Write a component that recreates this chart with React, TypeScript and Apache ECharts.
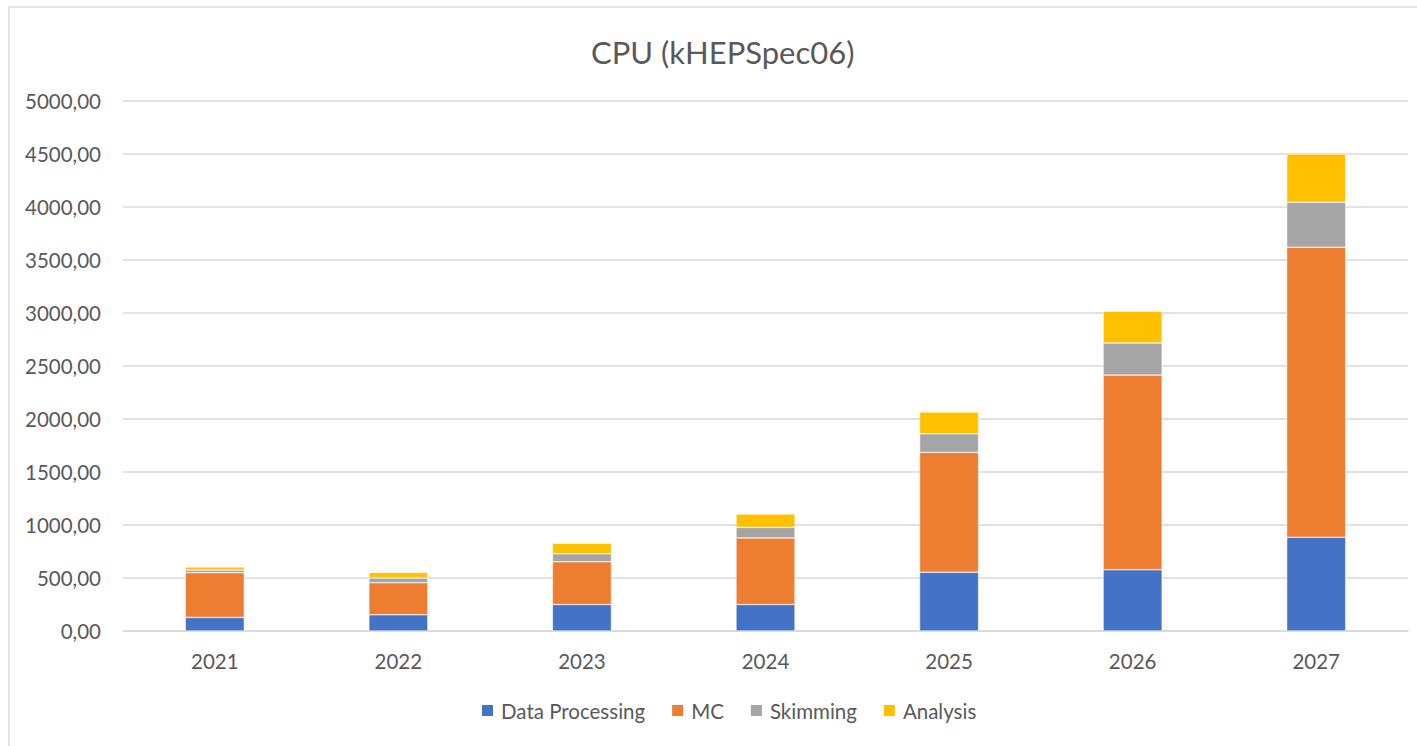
import React, { useEffect, useRef } from "react";
import * as echarts from "echarts";

const categories = ["2021", "2022", "2023", "2024", "2025", "2026", "2027"];
const dataProcessing = [128, 153, 250, 250, 555, 578, 884];
const mc = [422, 303, 403, 628, 1130, 1836, 2737];
const skimming = [25, 44, 75, 100, 175, 303, 424];
const analysis = [28, 53, 100, 125, 205, 299, 454];
const seriesNames = ["Data Processing", "MC", "Skimming", "Analysis"];
const colors = ["#4472C4", "#ED7D31", "#A5A5A5", "#FFC000"];

const FONT = "Lato";
const TEXT = "#595959";

export default function App() {
  const ref = useRef<HTMLDivElement>(null);
  useEffect(() => {
    if (!ref.current) return;
    const chart = echarts.init(ref.current, undefined, { renderer: "svg" });
    const values = [dataProcessing, mc, skimming, analysis];
    chart.setOption({
      animation: false,
      backgroundColor: "#ffffff",
      color: colors,
      title: {
        text: "CPU (kHEPSpec06)",
        left: 586,
        top: 31,
        textStyle: { fontFamily: FONT, fontSize: 31, fontWeight: "normal", color: TEXT },
      },
      legend: {
        bottom: 20,
        left: 475,
        itemWidth: 13,
        itemHeight: 13,
        itemGap: 25,
        icon: "rect",
        textStyle: { fontFamily: FONT, fontSize: 20.5, color: TEXT, padding: [0, 0, 0, 2] },
        data: seriesNames,
      },
      grid: { left: 123, right: 9, top: 101, bottom: 115, containLabel: false },
      xAxis: {
        type: "category",
        data: categories,
        axisLine: { lineStyle: { color: "#D9D9D9", width: 1.5 } },
        axisTick: { show: false },
        axisLabel: { fontFamily: FONT, fontSize: 20.5, color: TEXT, margin: 19 },
      },
      yAxis: {
        type: "value",
        min: 0,
        max: 5000,
        interval: 500,
        axisLine: { show: false },
        axisTick: { show: false },
        splitLine: { lineStyle: { color: "#D9D9D9", width: 1.5 } },
        axisLabel: {
          fontFamily: FONT,
          fontSize: 20.5,
          color: TEXT,
          margin: 22,
          formatter: (v: number) => v.toFixed(2).replace(".", ","),
        },
      },
      graphic: [
        {
          type: "rect",
          shape: { x: 9, y: 7, width: 1500, height: 800 },
          style: { fill: "none", stroke: "#D9D9D9", lineWidth: 1.5 },
          silent: true,
        },
      ],
      series: seriesNames.map((name, i) => ({
        name,
        type: "bar",
        stack: "total",
        barWidth: 59,
        data: values[i],
        itemStyle: { color: colors[i], borderColor: "#ffffff", borderWidth: 0.5 },
      })),
    });
    return () => chart.dispose();
  }, []);
  return (
    <div
      ref={ref}
      style={{ position: "fixed", left: 0, top: 0, width: 1417, height: 746 }}
    />
  );
}
